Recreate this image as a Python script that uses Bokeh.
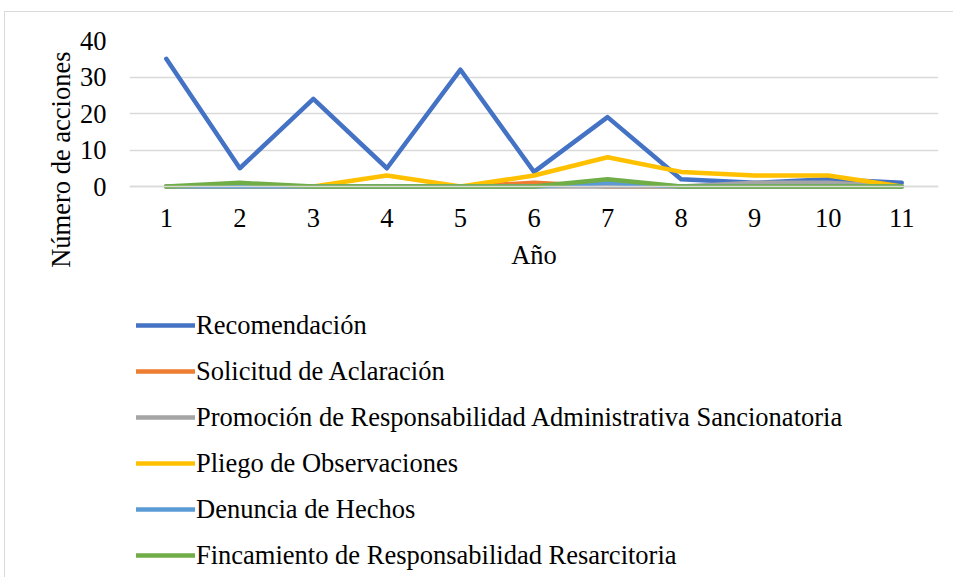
from bokeh.plotting import figure
from bokeh.models import FixedTicker, Legend, LegendItem, Title
from bokeh.embed import file_html
from bokeh.resources import INLINE

years = [1, 2, 3, 4, 5, 6, 7, 8, 9, 10, 11]
recomendacion = [35, 5, 24, 5, 32, 4, 19, 2, 1, 2, 1]
solicitud = [0, 0, 0, 0, 0, 1, 0, 0, 0, 0, 0]
promocion = [0, 0, 0, 0, 0, 0, 0, 0, 1, 1, 0]
pliego = [0, 0, 0, 3, 0, 3, 8, 4, 3, 3, 0]
denuncia = [0, 0, 0, 0, 0, 0, 1, 0, 0, 0, 0]
fincamiento = [0, 1, 0, 0, 0, 0, 2, 0, 0, 0, 0]

series_names = [
    "Recomendación",
    "Solicitud de Aclaración",
    "Promoción de Responsabilidad Administrativa Sancionatoria",
    "Pliego de Observaciones",
    "Denuncia de Hechos",
    "Fincamiento de Responsabilidad Resarcitoria",
]
series_values = [recomendacion, solicitud, promocion, pliego, denuncia, fincamiento]
series_colors = ["#4472C4", "#ED7D31", "#A5A5A5", "#FFC000", "#5B9BD5", "#70AD47"]
y_ticks = [0, 10, 20, 30, 40]

FONT = "Liberation Serif"
FS = "26.5px"

# frame spans from the 40-gridline down to the bottom of the canvas; the value
# axis 0..40 occupies its top 146 px, the legend sits in the lower part
W, H = 953, 577
TOP, LEFT, RIGHT = 40, 129, 15
AXIS_PX = 146.0
frame_h = H - TOP
y_lo = 40 - 40 * frame_h / AXIS_PX

p = figure(width=W, height=H, output_backend="svg", toolbar_location=None,
           x_range=(0.5, 11.5), y_range=(y_lo, 40),
           min_border_left=LEFT, min_border_right=RIGHT, min_border_top=TOP, min_border_bottom=0)
p.outline_line_color = None
p.border_fill_alpha = 0
p.background_fill_alpha = 0
p.styles = {
    "background": "linear-gradient(#d9d9d9,#d9d9d9) 4px 11px / 1px 100% no-repeat, "
                  "linear-gradient(#d9d9d9,#d9d9d9) 4px 11px / 100% 1px no-repeat, #ffffff",
}

p.xaxis.ticker = FixedTicker(ticks=years)
p.yaxis.ticker = FixedTicker(ticks=y_ticks)
p.xaxis.fixed_location = 0
p.xgrid.grid_line_color = None
p.ygrid.grid_line_color = "#d9d9d9"
p.ygrid.grid_line_width = 1.5

for ax in (p.xaxis[0], p.yaxis[0]):
    ax.major_tick_line_color = None
    ax.minor_tick_line_color = None
    ax.major_label_text_font = FONT
    ax.major_label_text_font_size = FS
    ax.major_label_text_color = "#000000"
    ax.axis_label_text_font = FONT
    ax.axis_label_text_font_size = FS
    ax.axis_label_text_font_style = "normal"
    ax.axis_label_text_color = "#000000"

p.xaxis.axis_line_color = "#d9d9d9"
p.xaxis.axis_line_width = 1.5
p.yaxis.axis_line_color = None
p.xaxis.major_label_standoff = 16
p.yaxis.major_label_standoff = 17
p.xaxis.axis_label = "Año"
p.xaxis.axis_label_standoff = 10

p.add_layout(Title(text="Número de acciones", align="right", offset=11, standoff=2,
                   text_font=FONT, text_font_size=FS, text_font_style="normal",
                   text_color="#000000"), "left")

items = []
for name, vals, col in zip(series_names, series_values, series_colors):
    r = p.line(years, vals, line_color=col, line_width=4.5, line_join="round", line_cap="round")
    items.append(LegendItem(label=name, renderers=[r]))

legend = Legend(items=items, location=(7, -1), orientation="vertical",
                glyph_width=59, glyph_height=46, label_height=46, spacing=0,
                label_standoff=1, padding=0, margin=0,
                label_text_font=FONT, label_text_font_size=FS, label_text_color="#000000",
                border_line_color=None, background_fill_alpha=0)
p.add_layout(legend, "center")

open("out.html", "w").write(file_html(p, INLINE))
